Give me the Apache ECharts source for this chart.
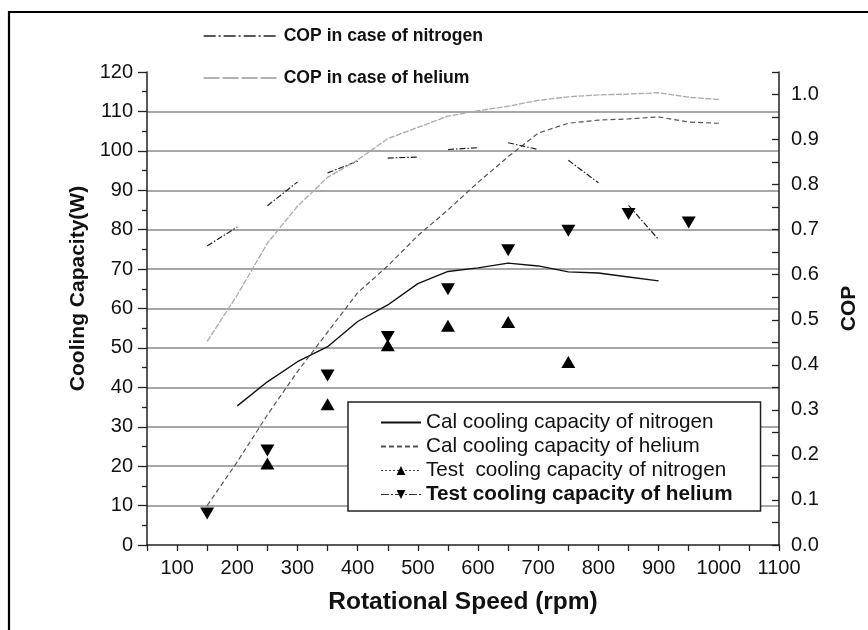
<!DOCTYPE html>
<html><head><meta charset="utf-8">
<script src="https://cdn.jsdelivr.net/npm/echarts@6/dist/echarts.min.js"></script>
<style>html,body{margin:0;padding:0;background:#fff}#c{width:868px;height:630px}</style>
</head><body><div id="c"></div><script>
// ---- data ----
const xTickLabels = [100,200,300,400,500,600,700,800,900,1000,1100];
const yLeftTicks = [0,10,20,30,40,50,60,70,80,90,100,110,120];
const yRightTicks = [0.0,0.1,0.2,0.3,0.4,0.5,0.6,0.7,0.8,0.9,1.0];

const rpmCalN2 = [200,250,300,350,400,450,500,550,600,650,700,750,800,850,900];
const calN2 = [35.3,41.4,46.5,50.3,56.7,60.9,66.3,69.4,70.3,71.5,70.8,69.3,69.0,68.0,67.0];

const rpmCalHe = [150,200,250,300,350,400,450,500,550,600,650,700,750,800,850,900,950,1000];
const calHe = [10.0,21.1,33.0,44.0,54.0,64.0,70.8,78.5,85.0,92.0,98.5,104.5,107.0,107.8,108.1,108.6,107.3,107.0];

const rpmTestN2 = [250,350,450,550,650,750];
const testN2 = [20.7,35.7,50.7,55.6,56.6,46.4];

const rpmTestHe = [150,250,350,450,550,650,750,850,950];
const testHe = [8.0,24.0,43.0,52.8,64.9,74.8,79.7,84.0,81.8];

// COP of nitrogen is drawn as separate short pieces (pairs of points)
const rpmCopN2 = [150,200,250,300,350,400,450,500,550,600,650,700,750,800,850,900];
const copN2 = [0.664,0.706,0.753,0.806,0.826,0.852,0.859,0.861,0.878,0.882,0.893,0.878,0.854,0.804,0.754,0.678];

const rpmCopHe = [150,200,250,300,350,400,450,500,550,600,650,700,750,800,850,900,950,1000];
const copHe = [0.452,0.555,0.670,0.752,0.816,0.855,0.902,0.927,0.952,0.964,0.974,0.987,0.995,0.999,1.001,1.004,0.994,0.989];

const names = {
  calN2: 'Cal cooling capacity of nitrogen',
  calHe: 'Cal cooling capacity of helium',
  testN2: 'Test  cooling capacity of nitrogen',
  testHe: 'Test cooling capacity of helium',
  copN2: 'COP in case of nitrogen',
  copHe: 'COP in case of helium'
};

// ---- build ----
const zip = (xs, ys) => xs.map((x, i) => [x, ys[i]]);
const copN2Data = [];
rpmCopN2.forEach((x, i) => {
  copN2Data.push([x, copN2[i]]);
  if (i % 2 === 1 && i < rpmCopN2.length - 1) copN2Data.push('-');
});

const FONT = "'Liberation Sans', Arial, Helvetica, sans-serif";
const TXT = '#111';
const upTri = 'path://M5,0 L10,9 L0,9 Z';
const downTri = 'path://M0,0 L10,0 L5,9 Z';

const chart = echarts.init(document.getElementById('c'), null, {renderer: 'canvas'});
chart.setOption({
  animation: false,
  backgroundColor: '#fff',
  textStyle: {fontFamily: FONT, color: TXT},
  grid: {left: 147, right: 89, top: 72, bottom: 85, containLabel: false, outerBoundsMode: 'none'},
  graphic: [{
    type: 'rect', silent: true, z: -1,
    shape: {x: 9, y: 12, width: 1000, height: 1000},
    style: {fill: 'none', stroke: '#000', lineWidth: 2.2}
  }],
  xAxis: {
    type: 'value', min: 50, max: 1100, interval: 50,
    name: 'Rotational Speed (rpm)', nameLocation: 'middle', nameGap: 45,
    nameTextStyle: {fontFamily: FONT, fontSize: 24.5, fontWeight: 'bold', color: TXT},
    axisLine: {show: true, lineStyle: {color: '#222', width: 1.5}},
    axisTick: {show: true, inside: false, length: 6, lineStyle: {color: '#222', width: 1.3}},
    axisLabel: {
      margin: 13, fontSize: 20, color: TXT, fontFamily: FONT,
      formatter: v => xTickLabels.includes(v) ? String(v) : ''
    },
    splitLine: {show: false}
  },
  yAxis: [{
    type: 'value', min: 0, max: 120, interval: 10, position: 'left',
    name: 'Cooling Capacity(W)', nameLocation: 'middle', nameGap: 58, nameRotate: 90,
    nameTextStyle: {fontFamily: FONT, fontSize: 21, fontWeight: 'bold', color: TXT, padding: [0, 0, 0, 40]},
    axisLine: {show: true, lineStyle: {color: '#222', width: 1.5}},
    axisTick: {show: true, inside: false, length: 9, lineStyle: {color: '#222', width: 1.3}},
    minorTick: {show: true, splitNumber: 2, length: 5, lineStyle: {color: '#222', width: 1.3}},
    axisLabel: {
      margin: 14, fontSize: 20, color: TXT, fontFamily: FONT,
      formatter: v => yLeftTicks.includes(v) ? String(v) : ''
    },
    splitLine: {show: true, showMinLine: false, showMaxLine: false, lineStyle: {color: '#8a8a8a', width: 1.5}}
  }, {
    type: 'value', min: 0, max: 1.05, interval: 0.05, position: 'right',
    name: 'COP', nameLocation: 'middle', nameGap: 60, nameRotate: 90,
    nameTextStyle: {fontFamily: FONT, fontSize: 21, fontWeight: 'bold', color: TXT},
    axisLine: {show: true, lineStyle: {color: '#222', width: 1.5}},
    axisTick: {show: true, inside: true, length: 7, lineStyle: {color: '#222', width: 1.3}},
    axisLabel: {
      margin: 12, fontSize: 20, color: TXT, fontFamily: FONT,
      formatter: v => {
        const r = Math.round(v * 10) / 10;
        return (Math.abs(v - r) < 1e-6 && yRightTicks.some(t => Math.abs(t - r) < 1e-6)) ? r.toFixed(1) : '';
      }
    },
    splitLine: {show: false}
  }],
  legend: [{
    orient: 'vertical', left: 203, top: 27, padding: 0,
    itemWidth: 75, itemHeight: 10, itemGap: 24, selectedMode: false,
    textStyle: {fontFamily: FONT, fontSize: 17.6, fontWeight: 'bold', color: TXT},
    data: [
      {name: names.copN2, itemStyle: {opacity: 0}, lineStyle: {type: [12, 3, 2, 3], width: 1.3, color: '#222'}},
      {name: names.copHe, itemStyle: {opacity: 0}, lineStyle: {type: [16, 3], width: 1.3, color: '#999'}}
    ]
  }, {
    orient: 'vertical', left: 348, top: 402, padding: [10, 28, 6, 32],
    backgroundColor: '#fff', borderColor: '#222', borderWidth: 1.5,
    itemWidth: 40, itemHeight: 11, itemGap: 3, selectedMode: false,
    textStyle: {fontFamily: FONT, fontSize: 20.7, color: TXT},
    data: [
      {name: names.calN2, itemStyle: {opacity: 0}},
      {name: names.calHe, itemStyle: {opacity: 0}},
      {name: names.testN2, lineStyle: {opacity: 1, type: [2, 2], width: 1, color: '#444'}},
      {name: names.testHe, lineStyle: {opacity: 1, type: [8, 2, 2, 2], width: 1, color: '#333'}, textStyle: {fontWeight: 'bold'}}
    ]
  }],
  series: [{
    name: names.calN2, type: 'line', yAxisIndex: 0,
    data: zip(rpmCalN2, calN2),
    symbol: 'rect', symbolSize: 3, showSymbol: false,
    itemStyle: {color: '#111'}, lineStyle: {color: '#111', width: 1.4}
  }, {
    name: names.calHe, type: 'line', yAxisIndex: 0,
    data: zip(rpmCalHe, calHe),
    symbol: 'rect', symbolSize: 2, showSymbol: false,
    itemStyle: {color: '#555'}, lineStyle: {color: '#555', width: 1.2, type: [5, 3]}
  }, {
    name: names.testN2, type: 'line', yAxisIndex: 0,
    data: zip(rpmTestN2, testN2),
    symbol: upTri, symbolSize: [14, 12], showSymbol: true,
    itemStyle: {color: '#000'}, lineStyle: {opacity: 0}
  }, {
    name: names.testHe, type: 'line', yAxisIndex: 0,
    data: zip(rpmTestHe, testHe),
    symbol: downTri, symbolSize: [14, 12], showSymbol: true,
    itemStyle: {color: '#000'}, lineStyle: {opacity: 0}
  }, {
    name: names.copN2, type: 'line', yAxisIndex: 1,
    data: copN2Data, connectNulls: false,
    symbol: 'none',
    itemStyle: {color: '#222'}, lineStyle: {color: '#222', width: 1.2, type: [6, 2, 1.5, 2]}
  }, {
    name: names.copHe, type: 'line', yAxisIndex: 1,
    data: zip(rpmCopHe, copHe),
    symbol: 'none',
    itemStyle: {color: '#aaa'}, lineStyle: {color: '#aaa', width: 1.3, type: [6, 1.5]}
  }]
});
</script></body></html>
